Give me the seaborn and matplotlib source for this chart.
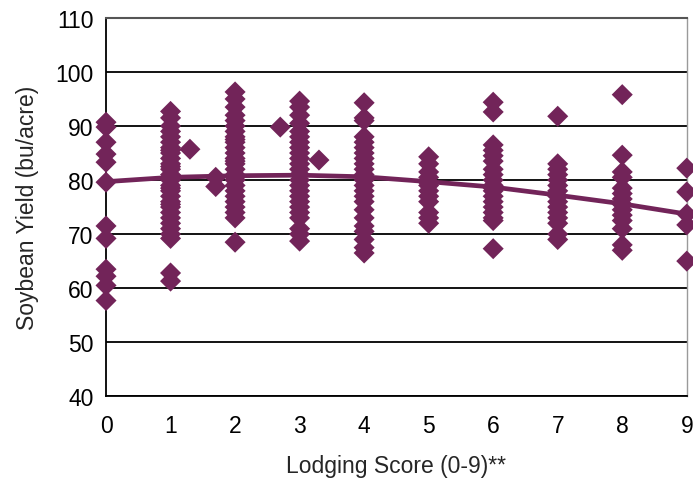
import numpy as np
import pandas as pd
import matplotlib
matplotlib.use('Agg')
import matplotlib.pyplot as plt
import seaborn as sns

# yields, grouped by lodging score
score_0 = [90.7, 89.8, 87.0, 84.8, 83.3, 79.6, 71.5, 69.2, 63.5, 62.2, 60.5, 57.7]
score_1 = [92.7, 91.5, 90.0, 89.0, 88.0, 87.0, 86.0, 85.5, 85.0, 84.0, 83.0, 82.5,
           82.0, 81.0, 80.5, 80.0, 79.0, 78.5, 78.0, 77.0, 76.0, 75.5, 75.0, 74.0,
           73.0, 72.0, 71.0, 70.0, 69.2, 62.8, 61.3]
score_1_3 = [85.7]
score_1_7 = [80.5, 78.8]
score_2 = [96.3, 95.0, 93.5, 92.0, 91.0, 90.0, 89.0, 88.0, 87.5, 87.0, 86.0, 85.0,
           84.0, 83.5, 83.0, 82.0, 81.0, 80.5, 80.0, 79.0, 78.0, 77.0, 76.0, 75.0,
           74.0, 73.0, 68.5]
score_2_7 = [89.8]
score_3 = [94.6, 93.5, 92.0, 90.5, 89.0, 88.0, 87.0, 86.0, 85.0, 84.0, 83.0, 82.0,
           81.0, 80.0, 79.0, 78.0, 77.0, 76.0, 75.0, 74.0, 73.0, 71.0, 70.0, 68.7]
score_3_3 = [83.7]
score_4 = [94.3, 91.5, 91.0, 88.0, 87.0, 86.0, 85.0, 84.0, 83.0, 82.0, 81.0, 80.0,
           79.0, 78.0, 77.0, 76.0, 74.5, 73.0, 71.5, 70.5, 69.0, 67.5, 66.5]
score_5 = [84.3, 83.0, 81.5, 80.5, 79.5, 79.0, 78.0, 77.0, 76.0, 74.0, 73.0, 72.0]
score_6 = [94.4, 92.6, 86.5, 85.5, 84.5, 83.5, 82.0, 81.0, 80.0, 79.0, 78.5, 78.0,
           77.0, 76.0, 75.0, 74.0, 73.0, 72.5, 67.3]
score_7 = [91.8, 83.0, 82.0, 81.0, 80.0, 79.0, 78.0, 77.0, 76.0, 75.0, 74.0, 73.0,
           72.0, 70.0, 69.0]
score_8 = [95.8, 84.6, 81.5, 80.5, 78.5, 77.5, 76.5, 75.5, 74.5, 73.5, 72.5, 71.0,
           68.0, 67.0]
score_9 = [82.2, 77.8, 73.7, 71.7, 65.0]

groups = {0: score_0, 1: score_1, 1.3: score_1_3, 1.7: score_1_7, 2: score_2,
          2.7: score_2_7, 3: score_3, 3.3: score_3_3, 4: score_4, 5: score_5,
          6: score_6, 7: score_7, 8: score_8, 9: score_9}

trend_x = [0, 1, 2, 3, 4, 5, 6, 7, 8, 9]
trend_y = [79.7, 80.5, 80.8, 80.9, 80.6, 79.7, 78.7, 77.2, 75.6, 73.7]

x_ticks = list(range(10))
y_ticks = [40, 50, 60, 70, 80, 90, 100, 110]

purple = '#722459'

df = pd.DataFrame([(k, v) for k, vals in groups.items() for v in vals],
                  columns=['lodging', 'yield'])
trend = pd.DataFrame({'lodging': trend_x, 'yield': trend_y})

sns.set_style('white')
plt.rcParams['font.family'] = ['Liberation Sans', 'DejaVu Sans']

fig, ax = plt.subplots(figsize=(6.93, 4.85), dpi=100)
fig.subplots_adjust(left=0.153, right=0.991, top=0.961, bottom=0.181)

ax.set_axisbelow(True)
ax.grid(axis='y', color='black', linewidth=1.3)

sns.scatterplot(data=df, x='lodging', y='yield', marker='D', s=115, color=purple,
                edgecolor='none', linewidth=0, ax=ax, clip_on=False, zorder=3)
sns.lineplot(data=trend, x='lodging', y='yield', color=purple, linewidth=3.4,
             ax=ax, zorder=4)

ax.set_xlim(0, 9)
ax.set_ylim(40, 110)
ax.set_xticks(x_ticks)
ax.set_yticks(y_ticks)
ax.tick_params(axis='both', direction='out', length=6, width=1.2, color='black',
               labelsize=16.5, labelcolor='black')
ax.tick_params(axis='x', pad=7)
ax.tick_params(axis='y', pad=3)

ax.set_xlabel('Lodging Score (0-9)**', fontsize=16.5, labelpad=12)
ax.set_ylabel('Soybean Yield (bu/acre)', fontsize=16.5, labelpad=12)

for side in ['left', 'bottom']:
    ax.spines[side].set_color('black')
    ax.spines[side].set_linewidth(1.3)
ax.spines['top'].set_color('#555555')
ax.spines['top'].set_linewidth(1.5)
ax.spines['right'].set_color('#9a9a9a')
ax.spines['right'].set_linewidth(1.0)

fig.savefig('out.png', dpi=100)
